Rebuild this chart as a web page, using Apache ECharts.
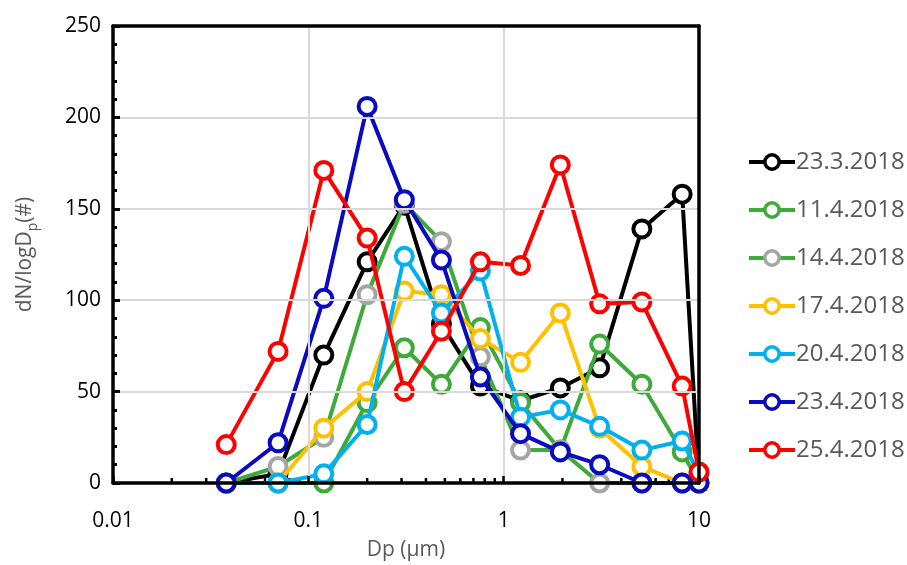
<!DOCTYPE html>
<html>
<head>
<meta charset="utf-8">
<script src="https://cdn.jsdelivr.net/npm/echarts@6/dist/echarts.min.js"></script>
<style>
html,body{margin:0;padding:0;background:#fff;}
#chart{width:907px;height:565px;}
</style>
</head>
<body>
<div id="chart"></div>
<script>
// Particle diameter bins (µm)
const diameters = [0.038, 0.07, 0.12, 0.2, 0.31, 0.48, 0.76, 1.22, 1.95, 3.1, 5.1, 8.2, 10];
// dN/logDp per date
const d23_3 = [0, 5, 70, 121, 152, 87, 53, 45, 52, 63, 139, 158, 0];
const d11_4 = [0, 0, 0, 44, 74, 54, 85, 44, 18, 76, 54, 17, 0];
const d14_4 = [0, 9, 25, 103, 153, 132, 69, 18, 18, 0, 0, 0, 0];
const d17_4 = [0, 0, 30, 50, 105, 103, 79, 66, 93, 30, 9, 0, 0];
const d20_4 = [0, 0, 5, 32, 124, 93, 116, 36, 40, 31, 18, 23, 5];
const d23_4 = [0, 22, 101, 206, 155, 122, 58, 27, 17, 10, 0, 0, 0];
const d25_4 = [21, 72, 171, 134, 50, 83, 121, 119, 174, 98, 99, 53, 6];
const seriesNames = ['23.3.2018', '11.4.2018', '14.4.2018', '17.4.2018', '20.4.2018', '23.4.2018', '25.4.2018'];
const seriesValues = [d23_3, d11_4, d14_4, d17_4, d20_4, d23_4, d25_4];
// minor tick positions on the log axis
const minorTickValues = [0.02,0.03,0.04,0.05,0.06,0.07,0.08,0.09,0.2,0.3,0.4,0.5,0.6,0.7,0.8,0.9,2,3,4,5,6,7,8,9];

const lineColors = ['#000000', '#3DAA3A', '#3DAA3A', '#FFC000', '#00B0F0', '#0A0ABF', '#FF0000'];
const markColors = ['#000000', '#3DAA3A', '#A5A5A5', '#FFC000', '#00B0F0', '#0A0ABF', '#FF0000'];

const FONT = 'Open Sans';

const chart = echarts.init(document.getElementById('chart'), null, {renderer: 'canvas'});

const lineSeries = seriesNames.map((name, i) => ({
  name: name,
  type: 'line',
  data: diameters.map((d, j) => [d, seriesValues[i][j]]),
  symbol: 'circle',
  symbolSize: 17,
  showSymbol: true,
  lineStyle: {color: lineColors[i], width: 4},
  itemStyle: {color: '#ffffff', borderColor: markColors[i], borderWidth: 4},
  z: 3 + i,
  emphasis: {disabled: true},
  animation: false
}));

const option = {
  animation: false,
  grid: {
    left: 113, right: 208, top: 26, bottom: 82,
    outerBoundsMode: 'none',
    containLabel: false
  },
  xAxis: [{
    type: 'log',
    logBase: 10,
    min: 0.01,
    max: 10,
    name: 'Dp (µm)',
    nameLocation: 'middle',
    nameGap: 57,
    nameTextStyle: {color: '#595959', fontFamily: FONT, fontSize: 21},
    axisLine: {show: true, onZero: false, lineStyle: {color: '#000', width: 3.5}},
    axisTick: {show: true, inside: true, length: 7, lineStyle: {color: '#000', width: 2.5}},
    minorTick: {show: false},
    axisLabel: {color: '#000', fontFamily: FONT, fontSize: 21, margin: 28,
      formatter: function (v) { return String(+v.toPrecision(6)); }},
    splitLine: {show: true, lineStyle: {color: '#D9D9D9', width: 2}},
    z: 10
  }, {
    type: 'log',
    logBase: 10,
    min: 0.01,
    max: 10,
    position: 'top',
    axisLine: {show: true, onZero: false, lineStyle: {color: '#000', width: 3.5}},
    axisTick: {show: false},
    axisLabel: {show: false},
    splitLine: {show: false},
    z: 10
  }],
  yAxis: [{
    type: 'value',
    min: 0,
    max: 250,
    interval: 50,
    name: '{a|dN/logD}{s|p}{a|(#)}',
    nameLocation: 'middle',
    nameGap: 73,
    nameRotate: 90,
    nameTextStyle: {
      color: '#595959', fontFamily: FONT, fontSize: 21,
      rich: {
        a: {color: '#595959', fontFamily: FONT, fontSize: 21, lineHeight: 30, verticalAlign: 'middle'},
        s: {color: '#595959', fontFamily: FONT, fontSize: 14, lineHeight: 30, verticalAlign: 'bottom'}
      }
    },
    axisLine: {show: true, lineStyle: {color: '#000', width: 3.5}},
    axisTick: {show: true, inside: true, length: 7, lineStyle: {color: '#000', width: 3}},
    minorTick: {show: true, splitNumber: 5, length: 4, lineStyle: {color: '#000', width: 3}},
    axisLabel: {color: '#000', fontFamily: FONT, fontSize: 21, margin: 12},
    splitLine: {show: true, lineStyle: {color: '#D9D9D9', width: 2}},
    z: 10
  }, {
    type: 'value',
    min: 0,
    max: 250,
    interval: 50,
    position: 'right',
    axisLine: {show: true, lineStyle: {color: '#000', width: 3.5}},
    axisTick: {show: false},
    axisLabel: {show: false},
    splitLine: {show: false},
    z: 10
  }],
  legend: {
    orient: 'vertical',
    left: 747,
    top: 149,
    padding: 0,
    itemWidth: 46,
    itemHeight: 18,
    itemGap: 22,
    data: seriesNames,
    lineStyle: {width: 4},
    itemStyle: {borderWidth: 3.5},
    textStyle: {color: '#595959', fontFamily: FONT, fontSize: 24, lineHeight: 26, padding: [0, 0, 0, -4]},
    selectedMode: false
  },
  series: lineSeries.concat([{
    name: 'minorTicks',
    type: 'custom',
    data: minorTickValues.map(v => [v, 0]),
    encode: {x: 0, y: 1},
    silent: true,
    z: 2,
    clip: false,
    renderItem: function (params, api) {
      const p = api.coord([api.value(0), 0]);
      return {
        type: 'line',
        shape: {x1: p[0], y1: p[1], x2: p[0], y2: p[1] - 5},
        style: {stroke: '#000', lineWidth: 2.5}
      };
    }
  }])
};

chart.setOption(option);
</script>
</body>
</html>
